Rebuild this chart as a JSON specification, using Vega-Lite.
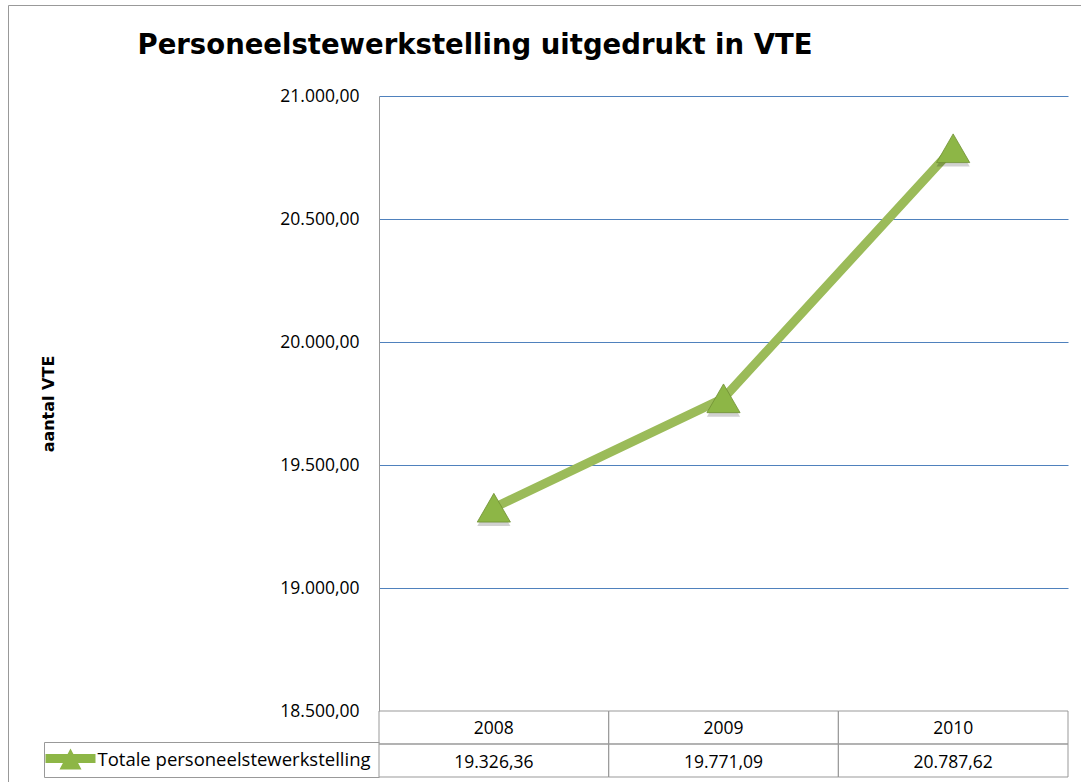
{
  "$schema": "https://vega.github.io/schema/vega-lite/v6.json",
  "autosize": {"type": "none"},
  "width": 689,
  "height": 681,
  "padding": {"left": 379, "top": 96, "right": 13, "bottom": 5},
  "background": "white",
  "config": {
    "locale": {"number": {"decimal": ",", "thousands": ".", "grouping": [3], "currency": ["€ ", ""]}},
    "view": {"stroke": null},
    "font": "Open Sans"
  },
  "datasets": {
    "series": [
      {"year": "2008", "value": 19326.36, "series": "Totale personeelstewerkstelling"},
      {"year": "2009", "value": 19771.09, "series": "Totale personeelstewerkstelling"},
      {"year": "2010", "value": 20787.62, "series": "Totale personeelstewerkstelling"}
    ],
    "legendrow": [
      {"series": "Totale personeelstewerkstelling"}
    ]
  },
  "layer": [
    {
      "data": {"name": "legendrow"},
      "mark": {"type": "point", "opacity": 0},
      "encoding": {
        "x": {
          "datum": 0, "type": "quantitative",
          "scale": {"domain": [0, 1], "range": [-371, 702], "nice": false, "zero": false},
          "axis": {
            "orient": "top", "offset": 91,
            "domainColor": "#999999", "domainWidth": 1,
            "ticks": false, "labels": false, "grid": false,
            "title": "Personeelstewerkstelling uitgedrukt in VTE",
            "titleFont": "DejaVu Sans", "titleFontSize": 27.5, "titleFontWeight": "bold", "titleColor": "#000000",
            "titleAlign": "left", "titleBaseline": "alphabetic", "titleAngle": 0,
            "titleX": -242, "titleY": 48
          }
        },
        "y": {
          "datum": 0, "type": "quantitative",
          "scale": {"domain": [0, 1], "range": [686, -91], "nice": false, "zero": false},
          "axis": {
            "orient": "left", "offset": 371,
            "domainColor": "#999999", "domainWidth": 1,
            "ticks": false, "labels": false, "grid": false, "title": null
          }
        }
      }
    },
    {
      "data": {"name": "series"},
      "encoding": {
        "x": {"field": "year", "type": "ordinal", "scale": {"type": "band", "paddingInner": 0, "paddingOuter": 0}, "axis": null},
        "y": {
          "field": "value", "type": "quantitative",
          "scale": {"domain": [18500, 21000], "range": [615, 0], "nice": false, "zero": false},
          "axis": {
            "orient": "left",
            "values": [18500, 19000, 19500, 20000, 20500, 21000],
            "format": ",.2f",
            "title": "aantal VTE",
            "grid": true,
            "gridColor": "#4F81BD",
            "gridWidth": 1,
            "gridOpacity": {"condition": {"test": "datum.value == 18500", "value": 0}, "value": 1},
            "domainColor": "#999999",
            "domainWidth": 1,
            "ticks": false,
            "labelFont": "Open Sans",
            "labelFontSize": 17.5,
            "labelColor": "#000000",
            "labelPadding": 20,
            "titleFont": "DejaVu Sans",
            "titleFontWeight": "bold",
            "titleFontSize": 16,
            "titleColor": "#000000",
            "titleAngle": -90,
            "titleAlign": "center",
            "titleBaseline": "middle",
            "titleX": -331,
            "titleY": 307.5
          }
        }
      },
      "layer": [
        {"mark": {"type": "line", "color": "#9BBB59", "strokeWidth": 9}},
        {"mark": {"type": "point", "shape": "triangle-up", "size": 1100, "filled": true, "color": "#000000", "opacity": 0.18, "yOffset": 4}},
        {
          "mark": {"type": "point", "shape": "triangle-up", "size": 1100, "filled": true, "opacity": 1, "stroke": "#6F8F32", "strokeWidth": 0.8},
          "encoding": {
            "color": {
              "field": "series", "type": "nominal",
              "scale": {"range": ["#8DB646"]},
              "legend": {
                "orient": "none",
                "legendX": -333.5,
                "legendY": 638,
                "title": null,
                "padding": 0,
                "symbolType": "M-1,-0.2 L1,-0.2 L1,0.16 L-1,0.16 Z M0,-0.42 L0.44,0.42 L-0.44,0.42 Z",
                "symbolSize": 2500,
                "symbolStrokeWidth": 0,
                "symbolFillColor": "#94B752",
                "labelOpacity": 0,
                "labelFontSize": 1
              }
            }
          }
        }
      ]
    },
    {
      "data": {"name": "series"},
      "encoding": {
        "x": {"field": "year", "type": "ordinal", "scale": {"type": "band", "paddingInner": 0, "paddingOuter": 0}, "axis": null}
      },
      "layer": [
        {
          "mark": {"type": "rect", "filled": false, "stroke": "#999999", "strokeWidth": 1},
          "encoding": {"y": {"datum": "header", "type": "ordinal", "scale": {"type": "band", "domain": ["header", "values"], "range": [615, 681], "paddingInner": 0, "paddingOuter": 0}, "axis": null}}
        },
        {
          "mark": {"type": "rect", "filled": false, "stroke": "#999999", "strokeWidth": 1},
          "encoding": {"y": {"datum": "values", "type": "ordinal", "axis": null}}
        },
        {
          "mark": {"type": "text", "font": "Open Sans", "fontSize": 17.5, "color": "#000000", "baseline": "middle", "dy": 1},
          "encoding": {"y": {"datum": "header", "type": "ordinal", "axis": null}, "text": {"field": "year"}}
        },
        {
          "mark": {"type": "text", "font": "Open Sans", "fontSize": 17.5, "color": "#000000", "baseline": "middle", "dy": 2},
          "encoding": {"y": {"datum": "values", "type": "ordinal", "axis": null}, "text": {"field": "value", "type": "quantitative", "format": ",.2f"}}
        }
      ]
    },
    {
      "data": {"name": "legendrow"},
      "mark": {"type": "rule", "opacity": 0},
      "encoding": {
        "y": {
          "field": "series", "type": "nominal",
          "scale": {"type": "band", "range": [646, 681], "paddingInner": 0, "paddingOuter": 0},
          "axis": {
            "orient": "right",
            "offset": -1024,
            "title": null,
            "domainColor": "#999999",
            "domainWidth": 1,
            "ticks": true,
            "tickBand": "extent",
            "tickSize": 335,
            "tickColor": "#999999",
            "tickWidth": 1,
            "labelPadding": -282,
            "labelAlign": "left",
            "labelFont": "Open Sans",
            "labelFontSize": 18.5,
            "labelColor": "#000000",
            "labelLimit": 0
          }
        }
      }
    }
  ],
  "resolve": {
    "scale": {"x": "independent", "y": "independent"},
    "axis": {"x": "independent", "y": "independent"}
  }
}
